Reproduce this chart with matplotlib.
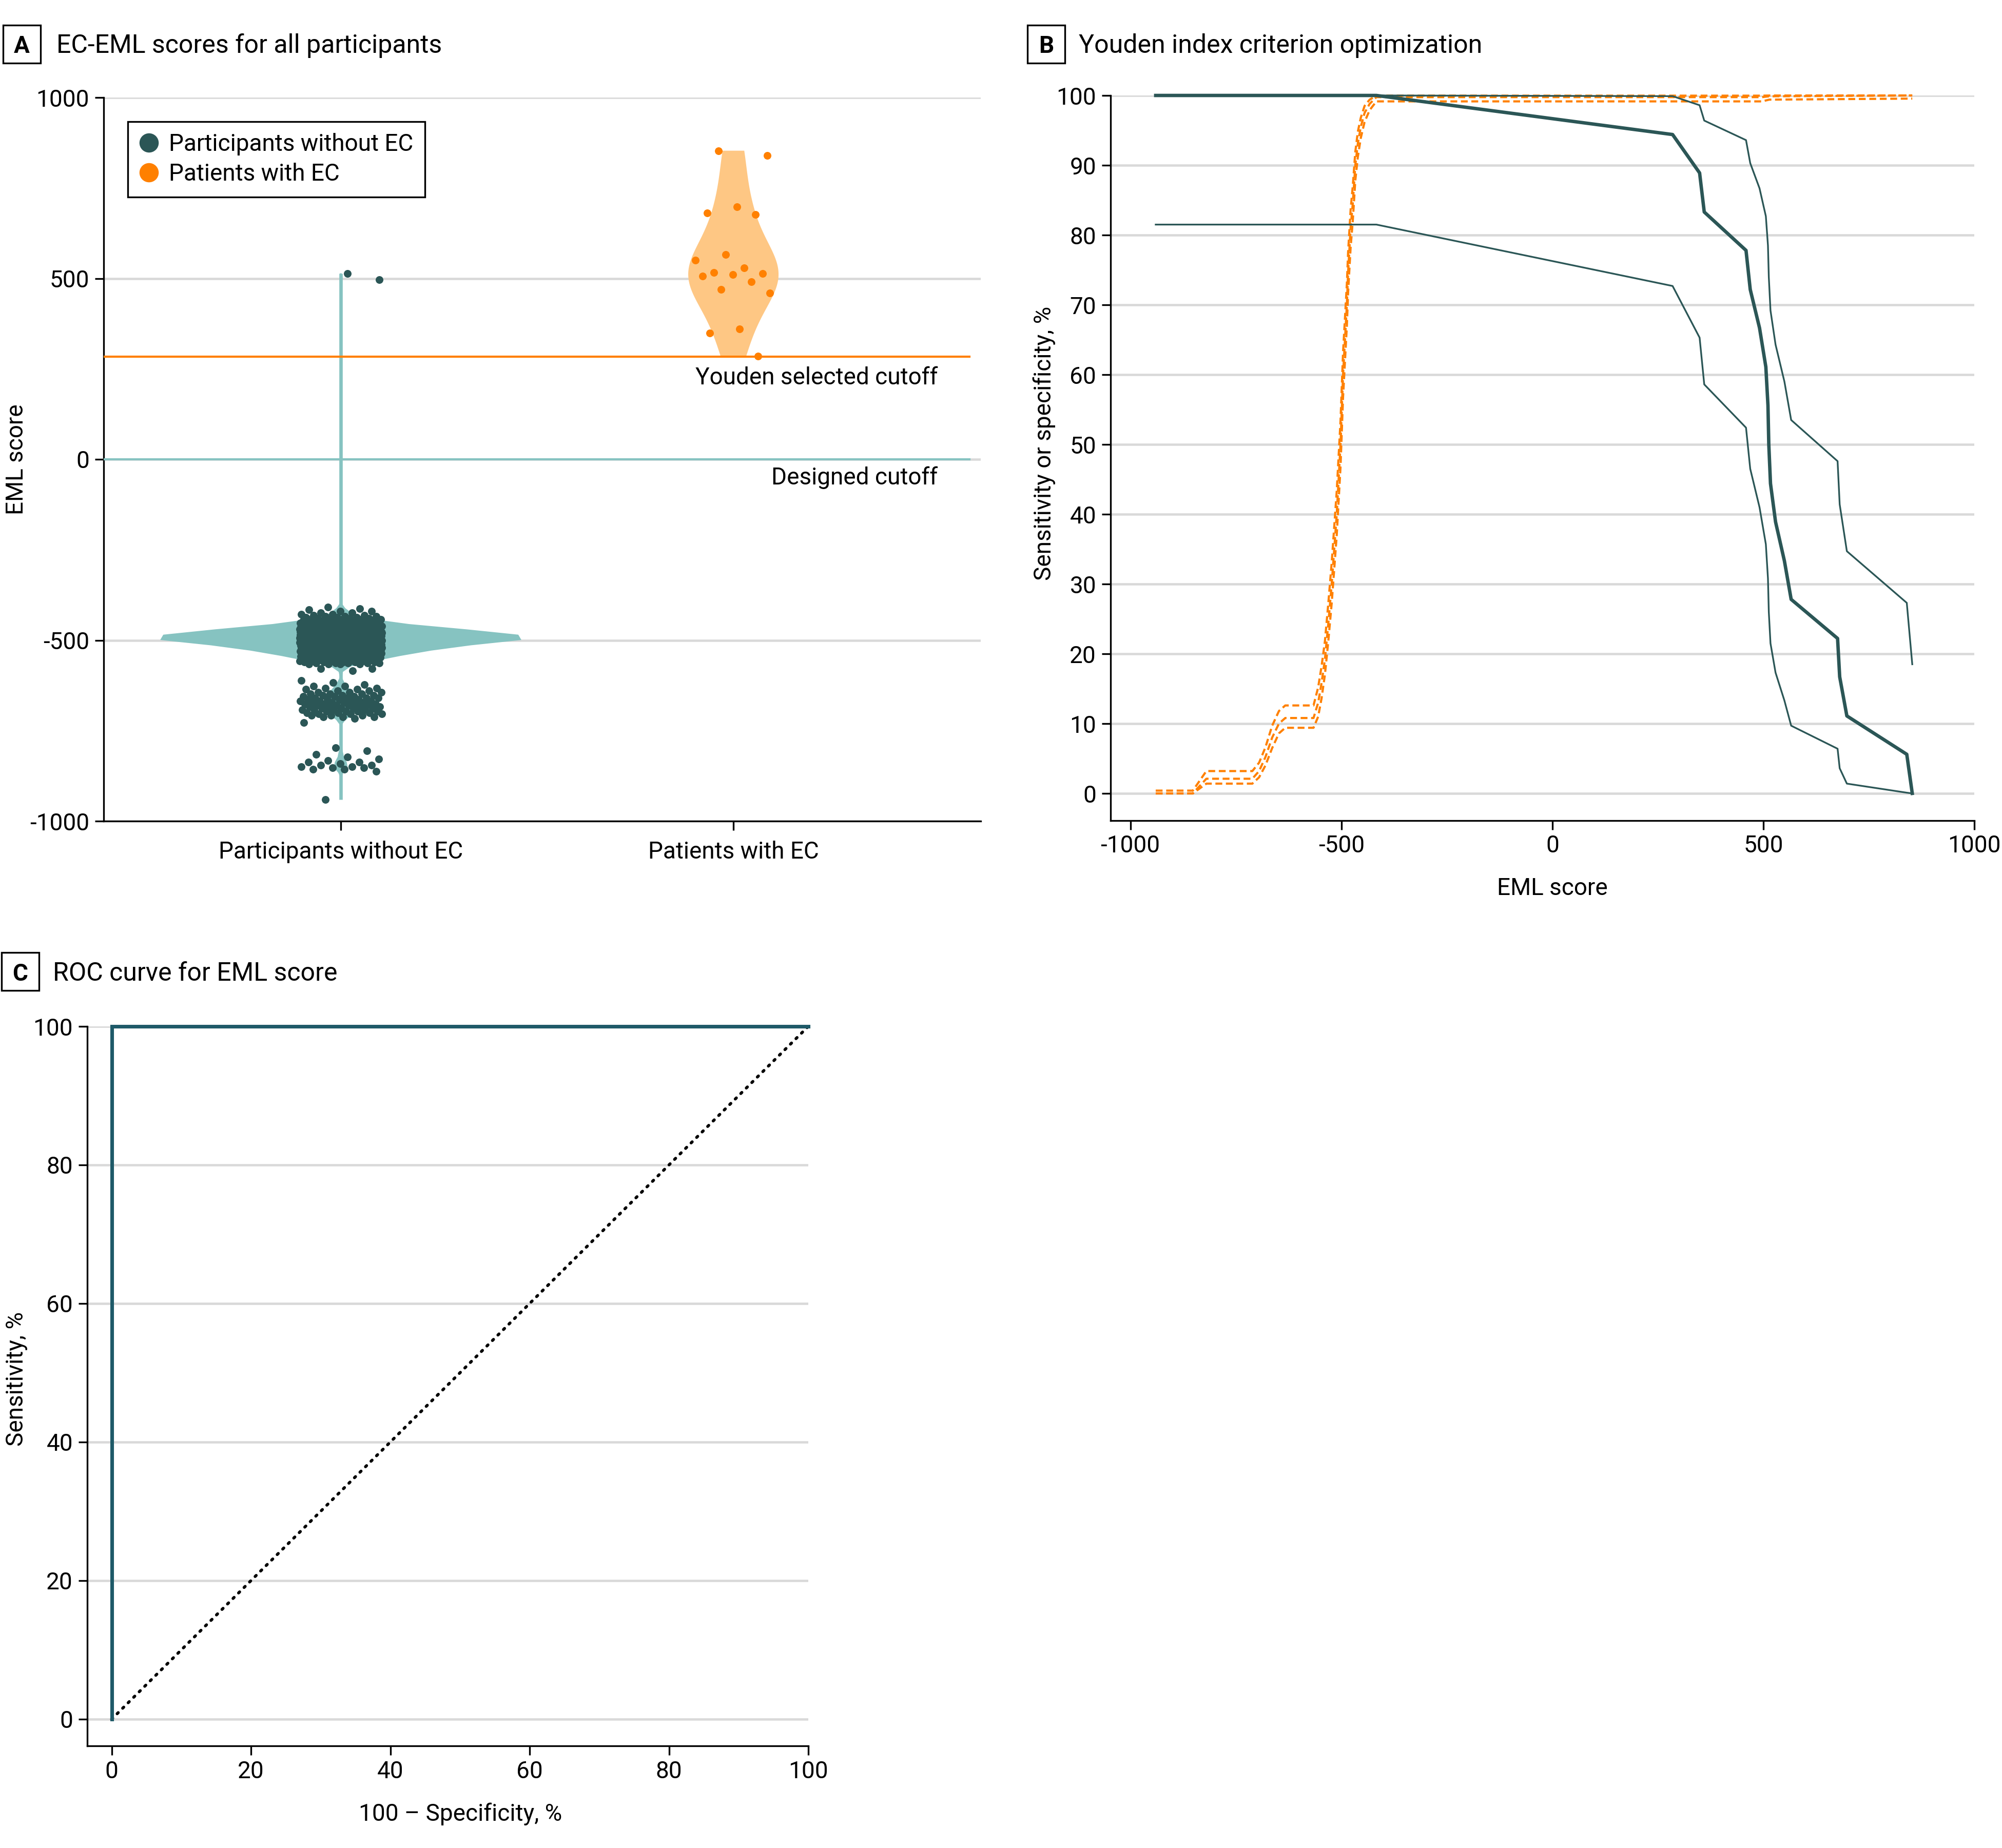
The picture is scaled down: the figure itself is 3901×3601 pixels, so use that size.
import numpy as np
import matplotlib
matplotlib.use("Agg")
import matplotlib.pyplot as plt
from matplotlib.lines import Line2D
from matplotlib.patches import Rectangle

plt.rcParams['font.family'] = ['Roboto', 'DejaVu Sans']

# ------------------------------------------------------------------ data
categories = ['Participants without EC', 'Patients with EC']

# EML scores of participants without EC (distinct score, number of participants)
nonec_scores = [-940,
                -862, -857, -853, -849, -845, -841, -837, -833, -828, -822, -815, -806, -797,
                -728,
                -716, -712, -708, -704, -700, -696, -692, -688, -684, -680, -676, -672,
                -668, -664, -660, -656, -652, -648, -644, -640, -636, -632, -627, -622,
                -617, -612,
                -585, -579, -566, -563, -560, -557, -554, -551, -548, -545, -542, -539,
                -536, -533, -530, -527, -524, -521, -518, -515, -512, -509, -506, -503,
                -500, -497, -494, -491, -488, -485, -482, -479, -476, -473, -470, -467,
                -464, -461, -458, -455, -452, -449, -446, -443, -440, -437, -434, -431,
                -428, -424, -420, -416, -413, -409,
                497, 514]
nonec_counts = [1,
                1, 2, 2, 2, 2, 1, 2, 1, 1, 1, 1, 1, 1,
                1,
                1, 3, 3, 3, 3, 4, 4, 4, 4, 4, 4, 4,
                4, 4, 4, 3, 3, 3, 3, 2, 2, 2, 2, 1,
                1, 1,
                1, 2, 4, 5, 5, 5, 8, 8, 8, 10, 10, 9,
                14, 14, 15, 16, 16, 16, 21, 22, 22, 21, 28, 28,
                29, 42, 43, 28, 28, 29, 31, 31, 32, 20, 19, 19,
                18, 12, 12, 12, 11, 6, 6, 5, 3, 3, 3, 2,
                2, 2, 2, 1, 1, 1,
                1, 1]

# EML scores of patients with EC
ec_scores = [853, 840, 698, 681, 676, 566, 550, 529, 517, 513, 511, 506,
             491, 469, 459, 360, 349, 285]

youden_cutoff = 284
designed_cutoff = 0

# Panel B: sensitivity (%) and 95% CI by criterion (EML score)
sens_score = [-940, -417, 285, 349, 360, 459, 469, 491, 506, 511, 513, 517,
              529, 550, 566, 676, 681, 698, 840, 853]
sens_pct = [100, 100, 94.4, 88.9, 83.3, 77.8, 72.2, 66.7, 61.1, 55.6, 50.0, 44.4,
            38.9, 33.3, 27.8, 22.2, 16.7, 11.1, 5.6, 0]
sens_lo = [81.5, 81.5, 72.7, 65.3, 58.6, 52.4, 46.5, 41.0, 35.7, 30.8, 26.0, 21.5,
           17.3, 13.3, 9.7, 6.4, 3.6, 1.4, 0.1, 0]
sens_hi = [100, 100, 99.9, 98.6, 96.4, 93.6, 90.3, 86.7, 82.7, 78.5, 74.0, 69.2,
           64.3, 59.0, 53.5, 47.6, 41.4, 34.7, 27.3, 18.5]

# Panel B: specificity (%) and 95% CI by criterion (EML score)
spec_score = [-940, -852, -820, -711, -695, -680, -664, -648, -633, -566, -555, -547,
              -539, -531, -523, -511, -502, -496, -487, -484, -478, -473, -467, -461,
              -454, -445, -433, -417, 497, 514, 853]
spec_pct = [0, 0, 2.1, 2.1, 3.2, 5.2, 8.0, 10.0, 10.8, 10.8, 13.0, 15.8,
            19.2, 24.3, 29.9, 40.0, 50.0, 60.0, 70.0, 74.7, 81.1, 84.5, 90.0, 93.1,
            95.5, 97.5, 98.8, 99.76, 99.76, 99.88, 100]
spec_lo = [0, 0, 1.4, 1.4, 2.3, 4.0, 6.5, 8.6, 9.4, 9.4, 11.0, 13.6,
           17.0, 21.8, 27.2, 37.0, 46.8, 56.8, 67.0, 71.8, 78.3, 82.0, 87.8, 91.2,
           93.9, 96.2, 97.9, 99.15, 99.15, 99.4, 99.55]
spec_hi = [0.4, 0.4, 3.2, 3.2, 4.4, 6.6, 9.7, 11.8, 12.6, 12.6, 15.2, 18.2,
           21.8, 27.2, 33.0, 43.3, 53.4, 63.2, 73.0, 77.6, 83.7, 87.0, 91.9, 94.8,
           96.8, 98.5, 99.4, 99.97, 99.97, 99.99, 100]

# Panel C: ROC curve
roc_fpr = [0, 0, 100]
roc_tpr = [0, 100, 100]
chance_line = [0, 100]

# ------------------------------------------------------------------ style
DARK = '#2B5656'
TEAL = '#86C3C1'
ORANGE = '#FF8000'
ORANGE_LIGHT = '#FEC784'
ROC = '#1E5A68'
GRID = '#D9D9D9'

W, H = 3901, 3601
fig = plt.figure(figsize=(W / 300, H / 300), dpi=300)


def rect(l, t, r, b):
    return [l / W, 1 - b / H, (r - l) / W, (b - t) / H]


def style(ax):
    for s in ['top', 'right']:
        ax.spines[s].set_visible(False)
    for s in ['left', 'bottom']:
        ax.spines[s].set_linewidth(0.8)
    ax.tick_params(length=4.2, width=0.8, labelsize=11, pad=2.5, color='black')
    ax.grid(axis='y', color=GRID, lw=1.1)
    ax.set_axisbelow(True)


def panel_header(letter, l, t, r, b, title, tx, base):
    fig.add_artist(Rectangle((l / W, 1 - b / H), (r - l) / W, (b - t) / H,
                             transform=fig.transFigure, fill=False, lw=0.8, ec='black'))
    fig.text((l + r) / 2 / W, 1 - base / H, letter, ha='center', va='baseline',
             fontsize=11, fontweight='bold')
    fig.text(tx / W, 1 - base / H, title, ha='left', va='baseline', fontsize=12)


def ftext(x, y, s, **kw):
    fig.text(x / W, 1 - y / H, s, fontsize=11, **kw)


# ------------------------------------------------------------------ panel A
axA = fig.add_axes(rect(202, 190, 1911, 1600))
style(axA)
nonec_all = np.repeat(np.array(nonec_scores, float), nonec_counts)
ec_all = np.array(ec_scores, float)

vA = axA.violinplot([nonec_all], positions=[0], widths=0.92, showextrema=False,
                    bw_method=0.1)
vB = axA.violinplot([ec_all], positions=[1], widths=0.23, showextrema=False)
for body, col in [(vA['bodies'][0], TEAL), (vB['bodies'][0], ORANGE_LIGHT)]:
    body.set_facecolor(col)
    body.set_edgecolor('none')
    body.set_alpha(1)
    body.set_zorder(2)
axA.vlines(0, nonec_all.min(), nonec_all.max(), color=TEAL, lw=1.6, zorder=2)

axA.axhline(designed_cutoff, xmax=0.987, color=TEAL, lw=1.0, zorder=3)
axA.axhline(youden_cutoff, xmax=0.987, color=ORANGE, lw=1.0, zorder=3)


def jitter(n, half):
    return ((np.arange(n) * 0.6180339887 + 0.31) % 1.0 - 0.5) * 2 * half


axA.scatter(0 + jitter(len(nonec_all), 0.105), nonec_all, s=13, color=DARK,
            lw=0, zorder=4)
axA.scatter(1 + jitter(len(ec_all), 0.1), ec_all, s=13, color=ORANGE, lw=0, zorder=4)

axA.set_xlim(-0.604, 1.630)
axA.set_ylim(-1000, 1000)
axA.set_yticks([-1000, -500, 0, 500, 1000])
axA.set_yticklabels(['-1000', '-500', '0', '500', '1000'])
axA.set_xticks([0, 1])
axA.set_xticklabels(categories)
axA.tick_params(axis='x', pad=5)

handles = [Line2D([], [], ls='none', marker='o', ms=8, color=DARK, label=categories[0]),
           Line2D([], [], ls='none', marker='o', ms=8, color=ORANGE, label=categories[1])]
leg = axA.legend(handles=handles, loc='upper left', bbox_to_anchor=(0.0275, 0.967),
                 frameon=True, fancybox=False, edgecolor='black', framealpha=1,
                 fontsize=11, borderpad=0.5, handlelength=0.8, handletextpad=0.45,
                 labelspacing=0.3, borderaxespad=0)
leg.get_frame().set_linewidth(0.8)

ftext(1827, 749, 'Youden selected cutoff', ha='right', va='baseline')
ftext(1827, 944, 'Designed cutoff', ha='right', va='baseline')
ftext(32, 895, 'EML score', ha='center', va='center', rotation=90)

# ------------------------------------------------------------------ panel B
axB = fig.add_axes(rect(2164, 186, 3847, 1598.5))
style(axB)
dash = (0, (3.2, 1.7))
for yv in (spec_lo, spec_hi, spec_pct):
    axB.plot(spec_score, yv, color=ORANGE, lw=1.0, ls=dash, clip_on=False, zorder=3)
axB.plot(sens_score, sens_lo, color=DARK, lw=0.8, clip_on=False, zorder=4)
axB.plot(sens_score, sens_hi, color=DARK, lw=0.8, clip_on=False, zorder=4)
axB.plot(sens_score, sens_pct, color=DARK, lw=1.6, clip_on=False, zorder=5)
axB.set_xlim(-1047, 1000)
axB.set_ylim(-3.86, 100)
axB.set_yticks(np.arange(0, 101, 10))
axB.set_xticks([-1000, -500, 0, 500, 1000])
axB.set_xticklabels(['-1000', '-500', '0', '500', '1000'])
ftext(2035, 864, 'Sensitivity or specificity, %', ha='center', va='center', rotation=90)
ftext(3025, 1744, 'EML score', ha='center', va='baseline')

# ------------------------------------------------------------------ panel C
axC = fig.add_axes(rect(170, 2000, 1575, 3401.7))
style(axC)
axC.plot(chance_line, chance_line, color='black', lw=1.4, ls=(0, (0.5, 2.1)),
         dash_capstyle='round', clip_on=False, zorder=3)
axC.plot(roc_fpr, roc_tpr, color=ROC, lw=1.7, clip_on=False, zorder=4,
         solid_joinstyle='miter')
axC.set_xlim(-3.5, 100)
axC.set_ylim(-3.83, 100)
axC.set_xticks(np.arange(0, 101, 20))
axC.set_yticks(np.arange(0, 101, 20))
ftext(32, 2687, 'Sensitivity, %', ha='center', va='center', rotation=90)
ftext(897, 3548, '100 – Specificity, %', ha='center', va='baseline')

# ------------------------------------------------------------------ headers
panel_header('A', 6, 49, 79, 123, 'EC-EML scores for all participants', 110, 103)
panel_header('B', 2002, 49, 2075, 123, 'Youden index criterion optimization', 2102, 103)
panel_header('C', 3, 1856, 76, 1930, 'ROC curve for EML score', 103, 1911)

fig.savefig('out.png', dpi=300)
